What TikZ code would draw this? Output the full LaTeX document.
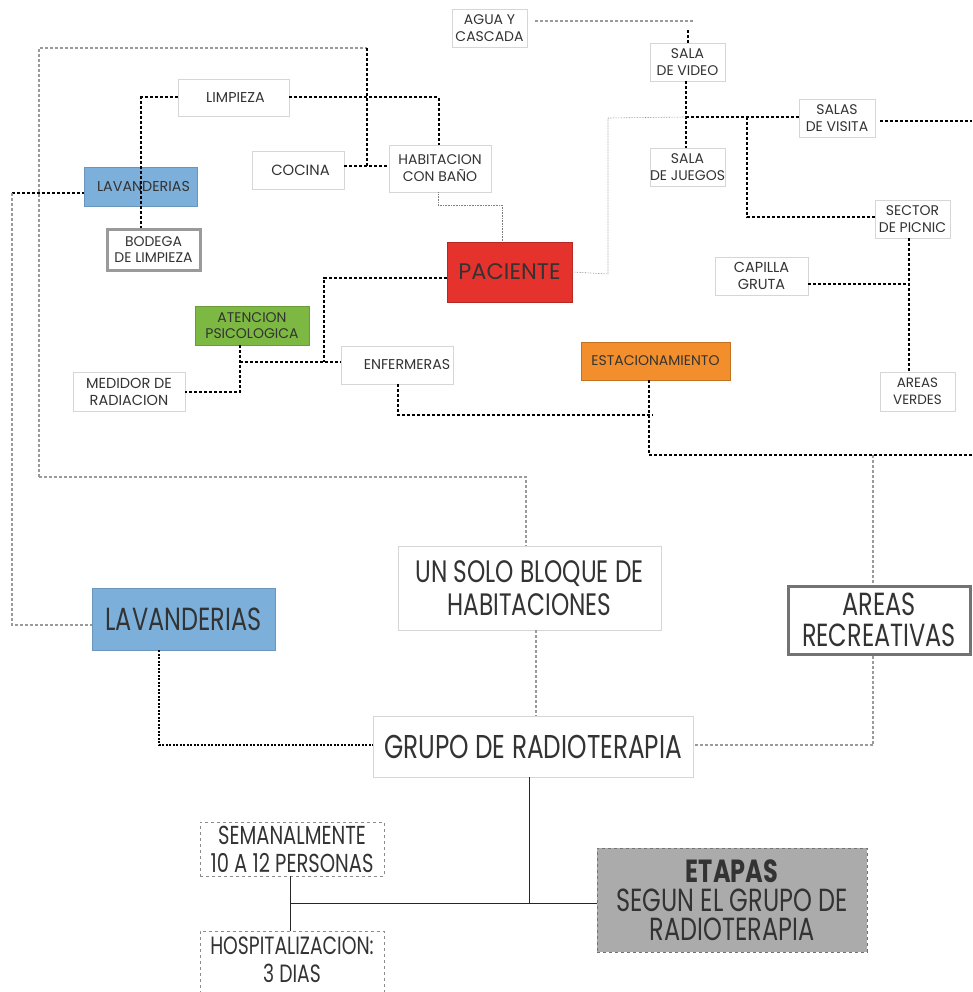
\documentclass[tikz,border=0pt]{standalone}
\usepackage{fontspec}
\setmainfont{Poppins}
\newfontfamily\cond[FakeStretch=0.75]{Poppins}
\definecolor{txt}{HTML}{333333}
\definecolor{boxgray}{HTML}{D6D6D6}
\definecolor{lavblue}{HTML}{7CB0DB}
\definecolor{psigreen}{HTML}{7CB842}
\definecolor{pacred}{HTML}{E5322D}
\definecolor{estorange}{HTML}{F28F2C}
\definecolor{etgray}{HTML}{ABABAB}
\definecolor{lgray}{HTML}{9A9A9A}
\begin{document}
\begin{tikzpicture}[x=1pt,y=-1pt,
  box/.style={draw=boxgray, line width=0.8pt, fill=white, inner sep=0pt, align=center, text=txt,
    font=\fontsize{14}{16.5}\selectfont},
  sz/.style 2 args={minimum width=#1, minimum height=#2},
  bigbox/.style={box, font=\cond\fontsize{32}{32}\selectfont},
  blackdot/.style={draw=black, line width=2pt, dash pattern=on 3pt off 2pt},
  thindot/.style={draw=black, line width=1.3pt, dash pattern=on 2pt off 1.5pt},
  graydot/.style={draw=lgray, line width=1.3pt, dash pattern=on 3pt off 2pt},
  hair/.style={draw=gray, line width=0.6pt},
  solidln/.style={draw=black!85, line width=1pt}]
\useasboundingbox (0,0) rectangle (972,992);
\fill[white] (0,0) rectangle (972,992);

% ---- top nodes
\node[box, sz={75}{38}] (agua) at (489.5,28) {AGUA Y\\CASCADA};
\node[box, sz={75}{38}] (video) at (687.5,62) {SALA\\DE VIDEO};
\node[box, sz={75}{38}] (juegos) at (687.5,167) {SALA\\DE JUEGOS};
\node[box, sz={76}{38}] (salas) at (837,118) {SALAS\\DE VISITA};
\node[box, sz={75}{38}] (picnic) at (912.5,219) {SECTOR\\DE PICNIC};
\node[box, sz={93}{38}, font=\fontsize{14.5}{17}\selectfont] (capilla) at (761.5,276) {CAPILLA\\GRUTA};
\node[box, sz={75}{39}, font=\fontsize{13.5}{16.5}\selectfont] (verdes) at (917.5,391.5) {AREAS\\VERDES};
\node[box, sz={111}{37}, font=\fontsize{14.3}{16}\selectfont] (limpieza) at (233.5,97.5) {\hspace*{4pt}LIMPIEZA};
\node[box, sz={92}{38}, font=\fontsize{14.8}{16}\selectfont] (cocina) at (298,170) {\hspace*{5pt}COCINA};
\node[box, sz={102}{47}, font=\fontsize{14}{17}\selectfont] (habit) at (440,168.5) {HABITACION\\CON BAÑO};
\node[box, sz={113}{39}, fill=lavblue, draw=lavblue!85!black, font=\fontsize{14.3}{16}\selectfont] (lav1) at (140.5,186.5) {\hspace*{6pt}LAVANDERIAS};
\node[box, sz={93}{40}, draw=lgray, line width=3pt, font=\fontsize{14}{16}\selectfont] (bodega) at (153.5,250) {BODEGA\\DE LIMPIEZA};
\node[box, sz={125}{60}, fill=pacred, draw=pacred!80!black, font=\fontsize{22.5}{24}\selectfont] (paciente) at (509.5,272) {PACIENTE};
\node[box, sz={114}{39}, fill=psigreen, draw=psigreen!85!black, font=\fontsize{14}{16}\selectfont] (atencion) at (252,325.5) {ATENCION\\PSICOLOGICA};
\node[box, sz={112}{39}, font=\fontsize{14.5}{17}\selectfont] (medidor) at (129,391.5) {MEDIDOR DE\\RADIACION};
\node[box, sz={112}{38}, font=\fontsize{14.2}{16}\selectfont] (enferm) at (397,365) {\hspace*{20pt}ENFERMERAS};
\node[box, sz={149}{38}, fill=estorange, draw=estorange!80!black, font=\fontsize{14}{16}\selectfont] (estac) at (655.5,361) {ESTACIONAMIENTO};

% ---- lower nodes
\node[bigbox, sz={263}{84}, font=\cond\fontsize{31}{33}\selectfont] (unsolo) at (529.5,588) {UN SOLO BLOQUE DE\\HABITACIONES};
\node[bigbox, sz={183}{62}, fill=lavblue, draw=lavblue!85!black, font=\cond\fontsize{32}{32}\selectfont] (lav2) at (183.5,619) {LAVANDERIAS};
\node[bigbox, sz={182}{68}, draw=black!55, line width=3pt, font=\cond\fontsize{32}{31}\selectfont] (recre) at (879,620) {AREAS\\RECREATIVAS};
\node[bigbox, sz={320}{61}, font=\cond\fontsize{33}{33}\selectfont] (grupo) at (533,746.5) {GRUPO DE RADIOTERAPIA};
\node[bigbox, sz={184}{54}, draw=black!45, dashed, font=\cond\fontsize{26}{28}\selectfont] (semanal) at (292,849) {SEMANALMENTE\\10 A 12 PERSONAS};
\node[bigbox, sz={184}{64}, draw=black!45, dashed, font=\cond\fontsize{25}{28}\selectfont] (hosp) at (292,963) {\raisebox{7pt}{HOSPITALIZACION:}\\\raisebox{7pt}{3 DIAS}};
\node[bigbox, sz={270}{104}, fill=etgray, draw=black!55, dashed, font=\cond\fontsize{32}{29}\selectfont] (etapas) at (732,900) {{\bfseries ETAPAS}\\SEGUN EL GRUPO DE\\RADIOTERAPIA};

% ---- top-right connectors
\draw[graydot] ([xshift=8pt,yshift=7pt]agua.east) -- (695,21);
\draw[blackdot] (688,30) -- (video.north -| 688,0);
\draw[blackdot] ([xshift=-1.5pt]video.south) -- ([xshift=-1.5pt]juegos.north);
\coordinate (j1) at (686,117);
\draw[blackdot] (j1) -- (salas.west |- j1);
\draw[hair, densely dotted] (paciente.east) -- (608,274) -- (608,118) -- (j1);
\draw[blackdot] ([yshift=-3pt,xshift=5pt]salas.east) -- (972,121);
\draw[blackdot] (747,117) -- (747,217) -- (picnic.west |- 0,217);
\draw[blackdot] (picnic.south -| 909,0) -- (verdes.north -| 909,0);
\draw[blackdot] ([yshift=-8pt]capilla.east) -- (909,284);

% ---- top-left connectors
\draw[graydot] (39,477) -- (39,48) -- (367,48);
\draw[blackdot] (367,48) -- (367,166);
\draw[blackdot] (cocina.east |- 0,166) -- (habit.west |- 0,166);
\draw[graydot] (39,477) -- (526,477) -- (unsolo.north -| 526,0);
\draw[blackdot] (limpieza.west) -- (141,97.5) -- (bodega.north -| 141,0);
\draw[blackdot] (limpieza.east) -- (439,97.5) -- (habit.north -| 439,0);
\draw[hair, densely dotted] (habit.south -| 438,0) -- (438,205) -- (502,205) -- (paciente.north -| 502,0);
\draw[blackdot] (12,193) -- (lav1.west |- 0,193);
\draw[graydot] (12,193) -- (12,625) -- (lav2.west |- 0,625);

% ---- middle connectors
\draw[blackdot] ([yshift=-6pt]paciente.west) -- (324,278) -- (324,362);
\draw[blackdot] (240,362) -- (enferm.west |- 0,362);
\draw[blackdot] (atencion.south -| 240,0) -- (240,392) -- (medidor.east |- 0,392);
\draw[blackdot] (enferm.south -| 398,0) -- (398,415) -- (653,415);
\draw[blackdot] (estac.south -| 649,0) -- (649,455) -- (972,455);
\draw[graydot] (873,455) -- (recre.north -| 873,0);
\draw[graydot] (recre.south -| 873,0) -- (873,745) -- (grupo.east |- 0,745);
\draw[graydot] (unsolo.south -| 536,0) -- (grupo.north -| 536,0);
\draw[thindot] (lav2.south -| 159,0) -- (159,745) -- (grupo.west |- 0,745);

% ---- bottom solid connectors
\draw[solidln] (grupo.south -| 529,0) -- (529,903);
\draw[solidln] (290,903) -- (etapas.west |- 0,903);
\draw[solidln] (semanal.south -| 290,0) -- (hosp.north -| 290,0);
\end{tikzpicture}
\end{document}
